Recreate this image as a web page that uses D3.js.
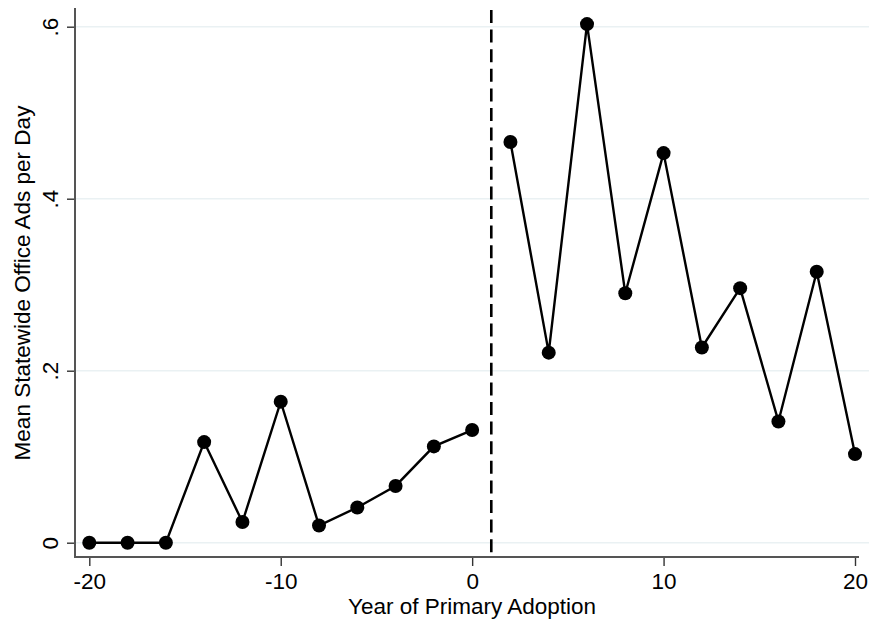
<!DOCTYPE html>
<html>
<head>
<meta charset="utf-8">
<script src="https://cdn.jsdelivr.net/npm/d3@7"></script>
<style>
  body { margin: 0; background: #fff; }
  svg text { font-family: "Liberation Sans", Helvetica, Arial, sans-serif; fill: #000; }
</style>
</head>
<body>
<div id="chart"></div>
<script>
// Event-time years and mean ads per day (line breaks at adoption)
const yearsBefore = [-20, -18, -16, -14, -12, -10, -8, -6, -4, -2, 0];
const adsBefore = [0, 0, 0, 0.117, 0.024, 0.164, 0.020, 0.041, 0.066, 0.112, 0.131];
const yearsAfter = [2, 4, 6, 8, 10, 12, 14, 16, 18, 20];
const adsAfter = [0.466, 0.221, 0.603, 0.290, 0.453, 0.227, 0.296, 0.141, 0.315, 0.103];
const xTicks = [-20, -10, 0, 10, 20];
const yTicks = [0, 0.2, 0.4, 0.6];
const yTickLabels = ["0", ".2", ".4", ".6"];
const adoptionLine = 1;

let width = 872, height = 624;
let fontSize = 22.5;

let svg = d3.select("#chart").append("svg")
  .attr("width", width)
  .attr("height", height);

// Scales (plot region)
let x = d3.scaleLinear().domain([-20, 20]).range([89.3, 855]);
let y = d3.scaleLinear().domain([0, 0.6]).range([542.7, 26.7]);

let axisLeftX = 75, axisBottomY = 557;

// Gridlines
svg.append("g")
  .selectAll("line")
  .data(yTicks)
  .enter().append("line")
  .attr("x1", axisLeftX)
  .attr("x2", 869)
  .attr("y1", d => y(d))
  .attr("y2", d => y(d))
  .attr("stroke", "#eaf1f3")
  .attr("stroke-width", 1.5);

// Y axis
let yAxis = d3.axisLeft(y)
  .tickValues(yTicks)
  .tickFormat((d, i) => yTickLabels[i])
  .tickSizeInner(8)
  .tickSizeOuter(0);

let gy = svg.append("g")
  .attr("transform", "translate(" + axisLeftX + ",0)")
  .call(yAxis);
gy.select(".domain").remove();
gy.selectAll(".tick line").attr("stroke", "#333").attr("stroke-width", 1.4);
gy.selectAll(".tick text")
  .attr("font-size", fontSize)
  .attr("x", null)
  .attr("text-anchor", "middle")
  .attr("transform", "translate(-25,0) rotate(-90)")
  .attr("dy", "0.36em");

svg.append("line")
  .attr("x1", axisLeftX).attr("x2", axisLeftX)
  .attr("y1", 8).attr("y2", axisBottomY)
  .attr("stroke", "#555").attr("stroke-width", 2);

// X axis
let xAxis = d3.axisBottom(x)
  .tickValues(xTicks)
  .tickFormat(d => d < 0 ? "-" + Math.abs(d) : String(d))
  .tickSizeInner(9)
  .tickSizeOuter(0)
  .tickPadding(7);

let gx = svg.append("g")
  .attr("transform", "translate(0," + axisBottomY + ")")
  .call(xAxis);
gx.select(".domain").remove();
gx.selectAll(".tick line").attr("stroke", "#333").attr("stroke-width", 1.4);
gx.selectAll(".tick text").attr("font-size", fontSize);

svg.append("line")
  .attr("x1", axisLeftX - 1).attr("x2", 859)
  .attr("y1", axisBottomY).attr("y2", axisBottomY)
  .attr("stroke", "#555").attr("stroke-width", 2);

// Adoption line
svg.append("line")
  .attr("x1", x(adoptionLine)).attr("x2", x(adoptionLine))
  .attr("y1", 10).attr("y2", axisBottomY)
  .attr("stroke", "#000")
  .attr("stroke-width", 2.6)
  .attr("stroke-dasharray", "13,6.6");

// Series: two segments
let segments = [
  yearsBefore.map((yr, i) => [yr, adsBefore[i]]),
  yearsAfter.map((yr, i) => [yr, adsAfter[i]])
];

let line = d3.line().x(d => x(d[0])).y(d => y(d[1]));

svg.append("g")
  .selectAll("path")
  .data(segments)
  .enter().append("path")
  .attr("fill", "none")
  .attr("stroke", "#000")
  .attr("stroke-width", 2.4)
  .attr("d", line);

svg.append("g")
  .selectAll("circle")
  .data(segments.flat())
  .enter().append("circle")
  .attr("cx", d => x(d[0]))
  .attr("cy", d => y(d[1]))
  .attr("r", 7)
  .attr("fill", "#000");

// Axis titles
svg.append("text")
  .attr("x", 472)
  .attr("y", 614)
  .attr("text-anchor", "middle")
  .attr("font-size", fontSize)
  .text("Year of Primary Adoption");

svg.append("text")
  .attr("transform", "translate(30,283) rotate(-90)")
  .attr("text-anchor", "middle")
  .attr("font-size", fontSize)
  .text("Mean Statewide Office Ads per Day");
</script>
</body>
</html>
